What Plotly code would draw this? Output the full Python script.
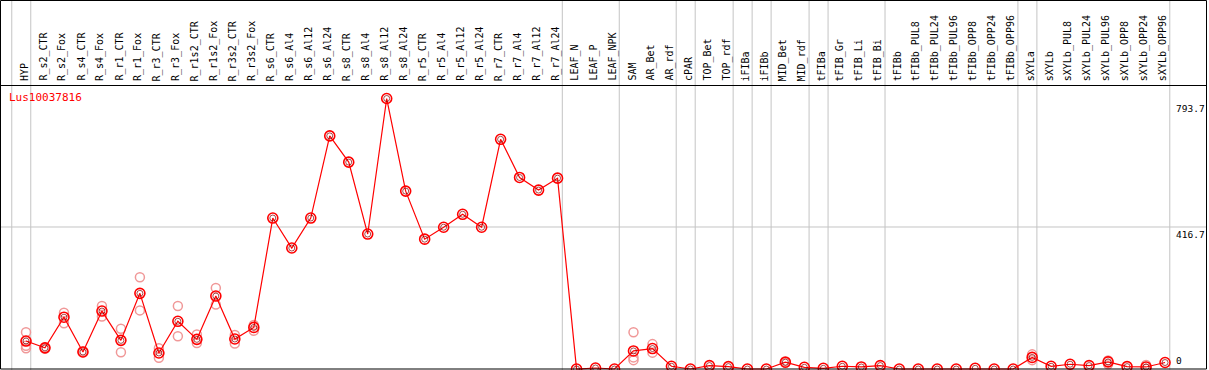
import plotly.graph_objects as go

gene = "Lus10037816"

categories = ["HYP", "R_s2_CTR", "R_s2_Fox", "R_s4_CTR", "R_s4_Fox", "R_r1_CTR", "R_r1_Fox",
              "R_r3_CTR", "R_r3_Fox", "R_r1s2_CTR", "R_r1s2_Fox", "R_r3s2_CTR", "R_r3s2_Fox",
              "R_s6_CTR", "R_s6_Al4", "R_s6_Al12", "R_s6_Al24", "R_s8_CTR", "R_s8_Al4", "R_s8_Al12",
              "R_s8_Al24", "R_r5_CTR", "R_r5_Al4", "R_r5_Al12", "R_r5_Al24", "R_r7_CTR", "R_r7_Al4",
              "R_r7_Al12", "R_r7_Al24", "LEAF_N", "LEAF_P", "LEAF_NPK", "SAM", "AR_Bet", "AR_rdf",
              "cPAR", "TOP_Bet", "TOP_rdf", "iFIBa", "iFIBb", "MID_Bet", "MID_rdf", "tFIBa", "tFIB_Gr",
              "tFIB_Li", "tFIB_Bi", "tFIBb", "tFIBb_PUL8", "tFIBb_PUL24", "tFIBb_PUL96", "tFIBb_OPP8",
              "tFIBb_OPP24", "tFIBb_OPP96", "sXYLa", "sXYLb", "sXYLb_PUL8", "sXYLb_PUL24",
              "sXYLb_PUL96", "sXYLb_OPP8", "sXYLb_OPP24", "sXYLb_OPP96"]

means = [82, 62, 152, 50, 170, 84, 222, 47, 140, 87, 214, 88, 122,
         443, 355, 443, 684, 607, 396, 793.7, 522, 381, 416, 454, 416, 674, 562, 525, 560,
         0, 3, 0, 53, 60, 8, 0, 10, 7, 0, 0, 20, 5, 2, 8, 6, 10,
         0, 0, 0, 0, 2, 0, 0, 34, 8, 14, 10, 21, 7, 6, 19]

replicates = {
    "HYP": [108, 82, 68, 61],
    "R_s2_CTR": [63, 60],
    "R_s2_Fox": [165, 134],
    "R_s4_CTR": [51, 49],
    "R_s4_Fox": [185, 154],
    "R_r1_CTR": [118, 49],
    "R_r1_Fox": [269, 172],
    "R_r3_CTR": [61, 33],
    "R_r3_Fox": [185, 96],
    "R_r1s2_CTR": [101, 76],
    "R_r1s2_Fox": [238, 189],
    "R_r3s2_CTR": [100, 75],
    "R_r3s2_Fox": [129, 112],
    "SAM": [108, 34, 26],
    "AR_Bet": [73, 48],
    "MID_Bet": [23, 18],
    "sXYLa": [43, 26],
    "sXYLb_PUL96": [25, 14],
    "sXYLb_OPP24": [12, 1],
}

# indices of the last column in each group (gray separators drawn just after them)
group_ends = [-1, 0, 28, 31, 34, 35, 37, 38, 39, 41, 42, 45, 52, 53, 60]

axis_labels = [793.7, 416.7, 0]
grid_value = 416.7

idx = list(range(len(categories)))
rep_x, rep_y = [], []
for i, c in enumerate(categories):
    for v in replicates.get(c, []):
        rep_x.append(i)
        rep_y.append(v)

fig = go.Figure()
fig.add_trace(go.Scatter(x=rep_x, y=rep_y, mode="markers", hoverinfo="skip",
                         marker=dict(symbol="circle-open", size=9, color="#f09898",
                                     line=dict(width=1.5, color="#f09898"))))
fig.add_trace(go.Scatter(x=idx, y=means, mode="lines", line=dict(color="#ff0000", width=1.2),
                         hoverinfo="skip"))
fig.add_trace(go.Scatter(x=idx, y=means, mode="markers", text=categories,
                         marker=dict(symbol="circle-open", size=10, color="#ff0000",
                                     line=dict(width=1.6, color="#ff0000"))))
fig.add_trace(go.Scatter(x=idx, y=means, mode="markers", hoverinfo="skip",
                         marker=dict(symbol="circle-open", size=6, color="#800000",
                                     line=dict(width=0.7, color="#800000"))))

W, H = 1209, 370
shapes = []
for g in group_ends:
    shapes.append(dict(type="line", xref="x", yref="paper", x0=g + 0.25, x1=g + 0.25, y0=0, y1=1,
                       line=dict(color="#c4c4c4", width=1), layer="below"))
shapes.append(dict(type="line", xref="paper", yref="y", x0=0, x1=1206.5 / W, y0=grid_value,
                   y1=grid_value, line=dict(color="#c4c4c4", width=1), layer="below"))
# frame and header separator
shapes.append(dict(type="rect", xref="paper", yref="paper", x0=0.5 / W, x1=1206.5 / W,
                   y0=1 - 369 / H, y1=1 - 0.5 / H, line=dict(color="black", width=1)))
shapes.append(dict(type="line", xref="paper", yref="paper", x0=0.5 / W, x1=1206.5 / W,
                   y0=1 - 85.5 / H, y1=1 - 85.5 / H, line=dict(color="black", width=1)))

annotations = []
for i, c in enumerate(categories):
    annotations.append(dict(x=i - 0.1, y=1 - 83 / H, xref="x", yref="paper", text=c,
                            textangle=-90, showarrow=False, xanchor="center", yanchor="bottom",
                            font=dict(family="DejaVu Sans Mono", size=10, color="black")))
annotations.append(dict(x=7 / W, y=1 - 98 / H, xref="paper", yref="paper", text=gene,
                        showarrow=False, xanchor="left", yanchor="middle",
                        font=dict(family="DejaVu Sans Mono", size=11, color="red")))
shifts = {793.7: (-2, "top"), 416.7: (-0.5, "top"), 0: (1, "bottom")}
for v in axis_labels:
    ys, ya = shifts[v]
    annotations.append(dict(x=1174 / W, y=v, xref="paper", yref="y", text=str(v if v else 0),
                            showarrow=False, xanchor="left", yanchor=ya, yshift=ys,
                            font=dict(family="DejaVu Sans Mono", size=9.5, color="black")))

fig.update_layout(
    width=W, height=H, margin=dict(l=0, r=0, t=0, b=0),
    paper_bgcolor="white", plot_bgcolor="white", showlegend=False,
    xaxis=dict(range=[-26 / 18.984, (W - 26) / 18.984], visible=False, fixedrange=True),
    yaxis=dict(range=[(369 - H) / 0.3408, 369 / 0.3408], visible=False, fixedrange=True),
    shapes=shapes, annotations=annotations,
)
fig.write_html("out.html", config={"displayModeBar": False},
               post_script="document.body.style.margin='0';document.body.style.overflow='hidden';")
